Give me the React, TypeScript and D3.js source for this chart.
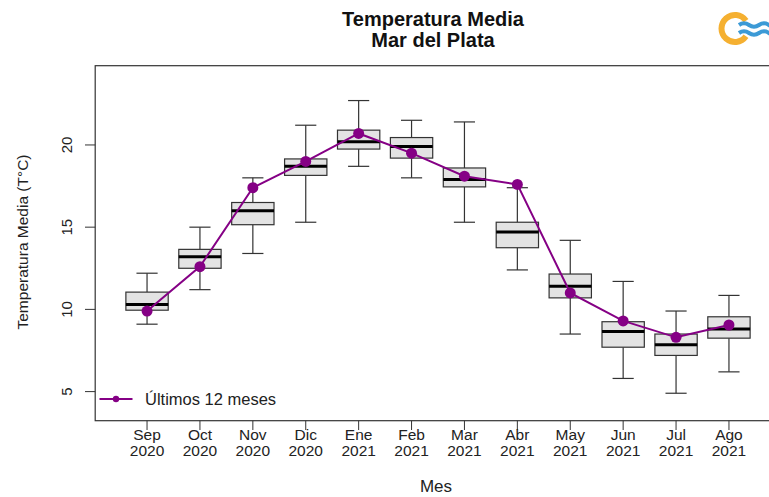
import React from 'react';
import * as d3 from 'd3';

const months = ['Sep', 'Oct', 'Nov', 'Dic', 'Ene', 'Feb', 'Mar', 'Abr', 'May', 'Jun', 'Jul', 'Ago'];
const years = ['2020', '2020', '2020', '2020', '2021', '2021', '2021', '2021', '2021', '2021', '2021', '2021'];

// boxplot stats per month (historical)
const whiskerHigh = [12.2, 15.0, 18.0, 21.2, 22.7, 21.5, 21.4, 17.4, 14.2, 11.7, 9.9, 10.85];
const q3 = [11.05, 13.65, 16.5, 19.15, 20.9, 20.45, 18.6, 15.3, 12.15, 9.25, 8.5, 9.55];
const medians = [10.3, 13.2, 16.0, 18.7, 20.2, 19.9, 17.9, 14.7, 11.4, 8.65, 7.85, 8.8];
const q1 = [9.95, 12.5, 15.15, 18.15, 19.75, 19.2, 17.45, 13.75, 10.7, 7.7, 7.2, 8.25];
const whiskerLow = [9.1, 11.2, 13.4, 15.3, 18.7, 18.0, 15.3, 12.4, 8.5, 5.8, 4.9, 6.2];

// last 12 months
const last12 = [9.9, 12.6, 17.4, 19.0, 20.7, 19.5, 18.1, 17.6, 11.0, 9.3, 8.3, 9.05];

const yTicks = [5, 10, 15, 20];

const W = 769;
const H = 497;
const purple = '#850085';
const frameColor = '#333';

export default function App() {
  const x = d3.scaleLinear().domain([0.02, 12.98]).range([95.2, 780.8]);
  const y = d3.scaleLinear().domain([3.23, 24.82]).range([420.7, 65.7]);
  const unit = x(1) - x(0);
  const boxW = unit * 0.8;
  const capW = boxW * 0.5;

  const pts = last12.map((v, i) => [x(i + 1), y(v)] as [number, number]);
  const line = d3.line()(pts) || '';

  // logo ring, open on the right
  const ring = d3.arc()({
    innerRadius: 10.5,
    outerRadius: 16.5,
    startAngle: Math.PI / 2 + 0.62,
    endAngle: Math.PI / 2 + 2 * Math.PI - 0.62,
  }) || '';

  const font = 'Liberation Sans, Arial, sans-serif';

  return (
    <>
      <style>{'body{margin:0}'}</style>
      <svg width={W} height={H} style={{ display: 'block', background: '#fff' }} fontFamily={font}>
        {/* title */}
        <text x={433} y={26} textAnchor="middle" fontSize={20} fontWeight="bold" fill="#111">Temperatura Media</text>
        <text x={433} y={47} textAnchor="middle" fontSize={20} fontWeight="bold" fill="#111">Mar del Plata</text>

        {/* logo */}
        <g>
          <path d={ring} transform="translate(735,28.5)" fill="#F5B031" />
          <path d="M 739 25 q 5 -3.5 10 0 t 10 0 t 10 0 t 10 0" fill="none" stroke="#3C9AD6" strokeWidth={4} />
          <path d="M 739 33 q 5 -3.5 10 0 t 10 0 t 10 0 t 10 0" fill="none" stroke="#3C9AD6" strokeWidth={4} />
        </g>

        {/* frame */}
        <rect x={95.2} y={65.7} width={780.8 - 95.2} height={420.7 - 65.7} fill="none" stroke={frameColor} strokeWidth={1.2} />

        {/* y axis */}
        {yTicks.map(t => (
          <g key={t}>
            <line x1={85} x2={95.2} y1={y(t)} y2={y(t)} stroke={frameColor} strokeWidth={1} />
            <text
              transform={`translate(${72},${y(t)}) rotate(-90)`}
              textAnchor="middle"
              fontSize={15}
              fill="#222"
            >{t}</text>
          </g>
        ))}
        <text
          transform={`translate(${27.5},${242}) rotate(-90)`}
          textAnchor="middle"
          fontSize={15.5}
          fill="#222"
        >Temperatura Media (T°C)</text>

        {/* x axis */}
        {months.map((m, i) => (
          <g key={m}>
            <line x1={x(i + 1)} x2={x(i + 1)} y1={420.7} y2={430} stroke={frameColor} strokeWidth={1} />
            <text x={x(i + 1)} y={440} textAnchor="middle" fontSize={15.5} fill="#222">{m}</text>
            <text x={x(i + 1)} y={455.5} textAnchor="middle" fontSize={15.5} fill="#222">{years[i]}</text>
          </g>
        ))}
        <text x={436} y={492} textAnchor="middle" fontSize={17} fill="#222">Mes</text>

        {/* boxplots */}
        {months.map((m, i) => {
          const cx = x(i + 1);
          return (
            <g key={'b' + m} stroke={frameColor}>
              <line x1={cx} x2={cx} y1={y(whiskerHigh[i])} y2={y(q3[i])} strokeWidth={1.2} />
              <line x1={cx} x2={cx} y1={y(q1[i])} y2={y(whiskerLow[i])} strokeWidth={1.2} />
              <line x1={cx - capW / 2} x2={cx + capW / 2} y1={y(whiskerHigh[i])} y2={y(whiskerHigh[i])} strokeWidth={1.2} />
              <line x1={cx - capW / 2} x2={cx + capW / 2} y1={y(whiskerLow[i])} y2={y(whiskerLow[i])} strokeWidth={1.2} />
              <rect
                x={cx - boxW / 2}
                y={y(q3[i])}
                width={boxW}
                height={y(q1[i]) - y(q3[i])}
                fill="#E3E3E3"
                strokeWidth={1.2}
              />
              <line x1={cx - boxW / 2} x2={cx + boxW / 2} y1={y(medians[i])} y2={y(medians[i])} stroke="#000" strokeWidth={3} />
            </g>
          );
        })}

        {/* last 12 months line */}
        <path d={line} fill="none" stroke={purple} strokeWidth={2} />
        {pts.map((p, i) => (
          <circle key={'p' + i} cx={p[0]} cy={p[1]} r={5.5} fill={purple} />
        ))}

        {/* legend */}
        <line x1={99.5} x2={132.5} y1={399} y2={399} stroke={purple} strokeWidth={2} />
        <circle cx={116} cy={399} r={3.2} fill={purple} />
        <text x={145} y={405} fontSize={16.5} fill="#222">Últimos 12 meses</text>
      </svg>
    </>
  );
}
